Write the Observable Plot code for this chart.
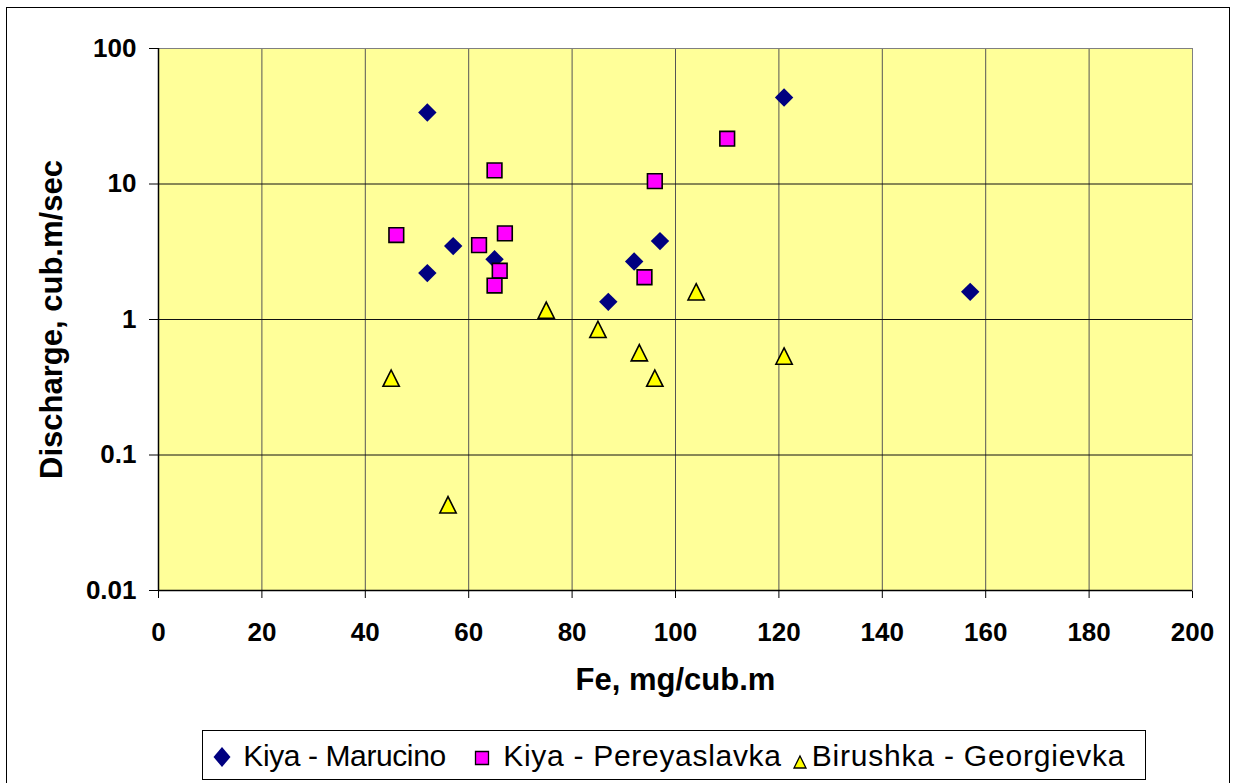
<!DOCTYPE html>
<html><head><meta charset="utf-8">
<script src="https://cdn.jsdelivr.net/npm/d3@7"></script>
<script src="https://cdn.jsdelivr.net/npm/@observablehq/plot@0.6"></script>
<style>
body{margin:0;background:#fff;font-family:"Liberation Sans",Arial,sans-serif;}
#wrap{position:relative;width:1240px;height:783px;overflow:hidden;background:#fff;}
#border{position:absolute;left:6px;top:7px;width:1224px;height:820px;border:1.5px solid #000;box-sizing:border-box;}
#chart{position:absolute;left:0;top:0;}
#legend{position:absolute;left:202px;top:730px;width:944px;height:50px;border:1px solid #000;box-sizing:border-box;background:#fff;}
.ltext{position:absolute;font-size:30px;line-height:30px;white-space:nowrap;color:#000;}
.lsw{position:absolute;}
</style></head>
<body><div id="wrap"><div id="border"></div><div id="chart"></div><div id="legend"></div></div>
<script>
const seriesNames = ["Kiya - Marucino", "Kiya - Pereyaslavka", "Birushka - Georgievka"];
const marucinoFe = [52, 121, 57, 52, 65, 97, 92, 87, 157];
const marucinoQ = [33.7, 43.5, 3.48, 2.2, 2.78, 3.79, 2.68, 1.35, 1.6];
const pereyaslavkaFe = [46, 65, 96, 110, 67, 62, 66, 65, 94];
const pereyaslavkaQ = [4.2, 12.6, 10.5, 21.6, 4.32, 3.54, 2.29, 1.78, 2.05];
const georgievkaFe = [45, 56, 75, 85, 93, 96, 121, 104];
const georgievkaQ = [0.369, 0.0429, 1.17, 0.845, 0.569, 0.369, 0.537, 1.6];
const xTicks = [0, 20, 40, 60, 80, 100, 120, 140, 160, 180, 200];
const yTicks = [0.01, 0.1, 1, 10, 100];
const yTickLabels = ["0.01", "0.1", "1", "10", "100"];
const xTitle = "Fe, mg/cub.m";
const yTitle = "Discharge, cub.m/sec";
const colors = ["#000080", "#FF00FF", "#FFFF00"];

const toRows = (fe, q) => fe.map((x, i) => ({fe: x, q: q[i]}));
const rowsM = toRows(marucinoFe, marucinoQ);
const rowsP = toRows(pereyaslavkaFe, pereyaslavkaQ);
const rowsG = toRows(georgievkaFe, georgievkaQ);

// isoceles triangle (width == height), centred on its bounding box
const triSym = {draw(ctx, size) { const h = Math.sqrt(size) / 2; ctx.moveTo(0, -h); ctx.lineTo(h, h); ctx.lineTo(-h, h); ctx.closePath(); }};

const chart = Plot.plot({
  width: 1240, height: 720,
  marginLeft: 158, marginRight: 48, marginTop: 48, marginBottom: 130,
  style: {fontFamily: "'Liberation Sans', Arial, sans-serif", fontSize: "26px", fontWeight: "bold", color: "#000", background: "transparent", overflow: "visible"},
  x: {domain: [0, 200], ticks: xTicks, tickSize: 8, tickPadding: 24, label: null},
  y: {type: "log", domain: [0.01, 100], ticks: yTicks, tickFormat: d => yTickLabels[yTicks.indexOf(d)], tickSize: 9, tickPadding: 13, label: null},
  marks: [
    Plot.frame({fill: "#FFFF99", stroke: "none"}),
    Plot.ruleX(xTicks.slice(1, -1), {stroke: "#555", strokeWidth: 1}),
    Plot.ruleY(yTicks.slice(1, -1), {stroke: "#111", strokeWidth: 1}),
    Plot.frame({stroke: "#808080"}),
    Plot.ruleX([0], {stroke: "#000", strokeWidth: 1.5}),
    Plot.ruleY([0.01], {stroke: "#000", strokeWidth: 1.5}),
    Plot.dot(rowsM, {x: "fe", y: "q", symbol: "diamond2", r: 8.3, fill: colors[0], stroke: "none"}),
    Plot.dot(rowsP, {x: "fe", y: "q", symbol: "square", r: 8.3, fill: colors[1], stroke: "#000", strokeWidth: 1.6}),
    Plot.dot(rowsG, {x: "fe", y: "q", symbol: triSym, r: 9.2, fill: colors[2], stroke: "#000", strokeWidth: 1.6}),
    Plot.text([yTitle], {text: d => d, frameAnchor: "left", textAnchor: "middle", rotate: -90, dx: -106, lineAnchor: "middle", fontSize: 31, fontWeight: "bold"}),
    Plot.text([xTitle], {text: d => d, frameAnchor: "bottom", textAnchor: "middle", dy: 90, lineAnchor: "middle", fontSize: 31, fontWeight: "bold"})
  ]
});
document.getElementById("chart").appendChild(chart);

// legend
const wrap = document.getElementById("wrap");
const ns = "http://www.w3.org/2000/svg";
const swatches = [
  {cx: 222.3, cy: 756.5, shape: "diamond"},
  {cx: 481.7, cy: 757.5, shape: "square"},
  {cx: 800, cy: 762, shape: "triangle"}
];
const textX = [243.3, 503.3, 811.7];
const spacing = ["-0.4px", "0.7px", "0.8px"];
swatches.forEach((s, i) => {
  const svg = document.createElementNS(ns, "svg");
  svg.setAttribute("width", 24); svg.setAttribute("height", 24);
  svg.setAttribute("class", "lsw");
  svg.style.left = (s.cx - 12) + "px"; svg.style.top = (s.cy - 12) + "px";
  const p = document.createElementNS(ns, "path");
  let d;
  if (s.shape === "diamond") d = "M12,2L20.5,12L12,22L3.5,12Z";
  else if (s.shape === "square") d = "M5.5,5.5H18.5V18.5H5.5Z";
  else d = "M12,6L18,18H6Z";
  p.setAttribute("d", d);
  p.setAttribute("fill", colors[i]);
  if (s.shape !== "diamond") { p.setAttribute("stroke", "#000"); p.setAttribute("stroke-width", "1.3"); }
  svg.appendChild(p);
  wrap.appendChild(svg);
  const t = document.createElement("div");
  t.className = "ltext";
  t.textContent = seriesNames[i];
  t.style.left = textX[i] + "px";
  t.style.top = "740.5px";
  t.style.letterSpacing = spacing[i];
  wrap.appendChild(t);
});
</script>
</body></html>
